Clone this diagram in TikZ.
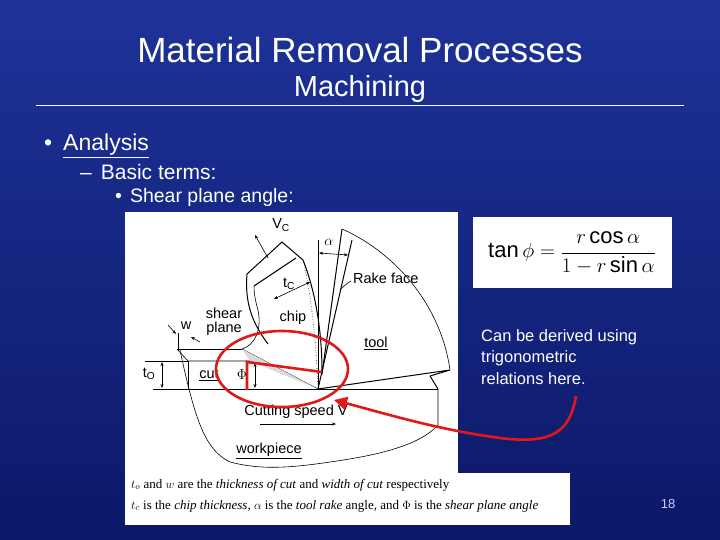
\documentclass[tikz,border=0pt]{standalone}
\usepackage{fontspec}
\setmainfont{Liberation Sans}
\newfontfamily\capfont{Liberation Serif}
\usetikzlibrary{arrows.meta}
\definecolor{bgtop}{HTML}{1E3399}
\definecolor{bgbot}{HTML}{0C1868}
\definecolor{redc}{HTML}{E01818}
\tikzset{
  wt/.style={text=white,inner sep=0pt},
  lab/.style={font=\fontsize{14.5}{15}\selectfont,inner sep=0pt},
  ln/.style={line width=1pt,black},
  thin/.style={line width=0.6pt,black},
  redl/.style={line width=2.6pt,redc},
}
\begin{document}
\begin{tikzpicture}[x=1pt,y=-1pt]
\useasboundingbox (0,0) rectangle (720,540);
\shade[top color=bgtop,bottom color=bgbot] (0,0) rectangle (720,540);
% title
\node[text=white,font=\fontsize{35}{40}\selectfont] (title) at (360,50) {Material Removal Processes};
\node[text=white,font=\fontsize{29}{32}\selectfont] (sub) at (360,89) {Machining};
\draw[white,line width=1pt] (36,106) -- (684,106);
\node[wt,anchor=west,font=\fontsize{23}{26}\selectfont] (b1) at (44,146) {•\hspace{11pt}\underline{Analysis}};
\node[wt,anchor=west,font=\fontsize{21}{24}\selectfont] (b2) at (80,172) {–\hspace{9pt}Basic terms:};
\node[wt,anchor=west,font=\fontsize{19.5}{22}\selectfont] (b3) at (115,197) {•\hspace{8pt}Shear plane angle:};
% figure background
\fill[white] (125,212) rectangle (458,473);
\fill[white] (125,473) rectangle (570,525);
% workpiece outline
\draw[thin] (438,389) -- (438,425) .. controls (420,445) and (380,455) .. (330,462)
  .. controls (290,468) and (260,470) .. (230,462) .. controls (205,450) and (195,420) .. (180,350);
\draw[ln] (153,389) -- (438,389);
\draw[ln] (430,376) -- (438,389);
% uncut layer
\draw[ln] (177,349) -- (242,349);
\draw[thin] (177,349) -- (188,361) -- (255,361);
\draw[thin] (188,361) -- (188,389);
\draw[thin] (242,349) -- (318,389);
\fill[gray!30] (242,349) -- (318,389) -- (250,361) -- cycle;
% t0 dimension
\draw[thin] (145,361) -- (188,361);
\draw[thin,{Stealth[length=4pt]}-{Stealth[length=4pt]}] (162,362) -- (162,388);
% w arrow
\draw[thin,-{Stealth[length=4pt]}] (168,325) -- (176,334);
\draw[thin,-{Stealth[length=4pt]}] (200,342) -- (191,337);
\draw[thin] (178,333) -- (178,349);
% tool
\draw[ln] (318,389) -- (352,240);
\draw[ln] (342,229) -- (322,374);
\draw[ln] (318,389) -- (450,370) -- (430,376);
\draw[thin] (342,229) .. controls (390,250) and (440,300) .. (450,370);
\draw[thin] (318,389) -- (318,240);
% alpha arrow
\draw[thin,{Stealth[length=4pt]}-{Stealth[length=4pt]}] (319,253) -- (348,255);
\draw[thin] (340,290) .. controls (344,286) and (346,284) .. (351,281);
% chip
\draw[ln] (268,344) .. controls (250,320) and (245,300) .. (247,274);
\draw[ln] (247,274) -- (282,242) -- (303,260) .. controls (315,290) and (322,330) .. (322,372);
\draw[ln] (254,286) -- (296,258);
\draw[thin] (242,349) .. controls (255,345) and (262,330) .. (258,310) .. controls (255,300) and (254,292) .. (254,286);
\draw[thin,dotted] (303,260) .. controls (312,300) and (316,340) .. (318,389);
\draw[thin,{Stealth[length=4pt]}-{Stealth[length=4pt]}] (274,299) -- (310,282);
\draw[thin,-{Stealth[length=4pt]}] (268,258) -- (255,235);
% phi arrow
\draw[thin,{Stealth[length=4pt]}-{Stealth[length=4pt]}] (255,363) -- (255,388);
% speed arrow
\draw[thin,-{Stealth[length=4pt]}] (260,424) -- (336,424);
% labels
\node[lab] (vc) at (281,225) {V\textsubscript{C}};
\node[lab] (al) at (329,242) {$\alpha$};
\node[lab,anchor=west] (rf) at (353,278) {Rake face};
\node[lab] (tc) at (289,284) {t\textsubscript{C}};
\node[lab] (chip) at (293,318) {chip};
\node[lab,align=center,font=\fontsize{14.5}{14}\selectfont] (sp) at (224,322) {shear\\plane};
\node[lab] (w) at (186,326) {w};
\node[lab] (tool) at (376,343) {\underline{tool}};
\node[lab] (t0) at (149,374) {t\textsubscript{O}};
\node[lab] (cut) at (209,375) {\underline{cut}};
\node[lab] (phi) at (242,375) {$\Phi$};
\node[lab] (cs) at (296,412) {Cutting speed V};
\node[lab] (wp) at (269,451) {\underline{workpiece}};
\node[anchor=west,inner sep=0pt,font=\capfont\fontsize{13}{14}\selectfont] (c1) at (131,485) {$t_o$ and $w$ are the \textit{thickness of cut} and \textit{width of cut} respectively};
\node[anchor=west,inner sep=0pt,font=\capfont\fontsize{13}{14}\selectfont] (c2) at (131,506) {$t_c$ is the \textit{chip thickness}, $\alpha$ is the \textit{tool rake} angle, and $\Phi$ is the \textit{shear plane angle}};
% red marks
\draw[redl] (247,390) -- (247,362) -- (322,372);
\draw[redl] (282,369) ellipse (66 and 38);
\draw[redl,-{Triangle[length=13pt,width=13pt]}] (576,396) .. controls (570,430) and (555,445) .. (500,438) .. controls (440,430) and (390,415) .. (334,400);
% formula
\fill[white] (473,217) rectangle (672,288);
\node[font=\fontsize{22}{26}\selectfont] (f) at (572,253) {$\displaystyle\tan\phi=\frac{r\cos\alpha}{1-r\sin\alpha}$};
\node[text=white,anchor=north west,align=left,font=\fontsize{16.5}{21.5}\selectfont,inner sep=0pt] (tx) at (481,329) {Can be derived using\\trigonometric\\relations here.};
\node[text=white!80!blue,font=\fontsize{13}{15}\selectfont] (pg) at (668,504) {18};
\end{tikzpicture}
\end{document}
